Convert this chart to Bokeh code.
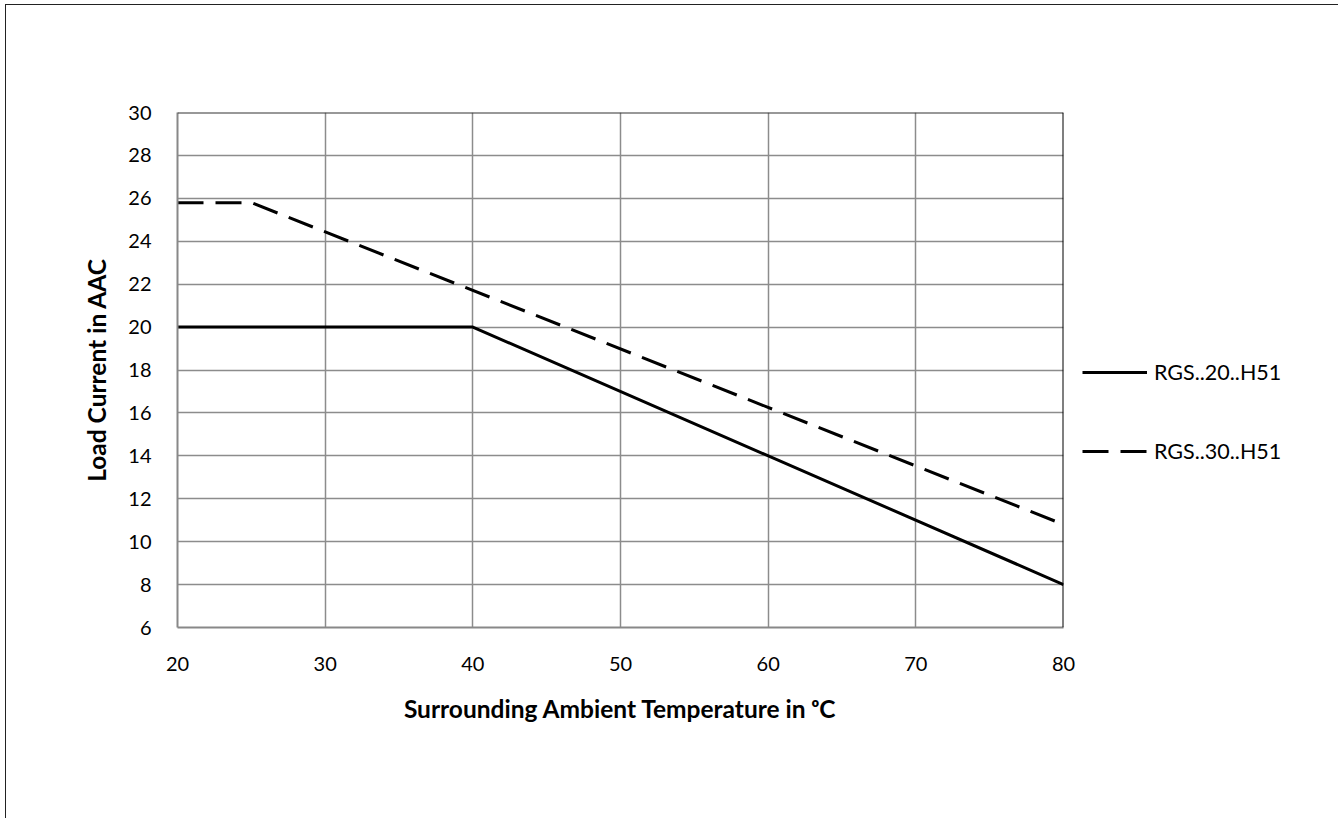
from bokeh.plotting import figure
from bokeh.models import Span, Legend, LegendItem, FixedTicker
from bokeh.embed import file_html
from bokeh.resources import INLINE

# Data
temp_20 = [20, 40, 80]
current_20 = [20, 20, 8]
temp_30 = [20, 25, 80]
current_30 = [25.8, 25.8, 10.8]
series_names = ["RGS..20..H51", "RGS..30..H51"]
x_ticks = [20, 30, 40, 50, 60, 70, 80]
y_ticks = [6, 8, 10, 12, 14, 16, 18, 20, 22, 24, 26, 28, 30]

FONT = "Lato"

p = figure(width=1329, height=817, frame_width=886, frame_height=515,
           output_backend="svg", toolbar_location=None,
           x_range=(20, 80), y_range=(6, 30),
           min_border_left=171, min_border_right=0,
           min_border_top=107, min_border_bottom=191)
p.styles = {"border-left": "1.5px solid #222", "border-top": "1.5px solid #222",
            "border-right": "1.5px solid #222", "margin-left": "5px", "margin-top": "4px"}

p.outline_line_color = None
p.background_fill_color = "white"
p.border_fill_color = "white"

for ax in (p.xaxis[0], p.yaxis[0]):
    ax.major_tick_line_color = None
    ax.minor_tick_line_color = None
    ax.axis_line_color = "#888888"
    ax.axis_line_width = 2
    ax.major_label_text_font = FONT
    ax.major_label_text_font_size = "20px"
    ax.major_label_text_color = "black"
    ax.axis_label_text_font = FONT
    ax.axis_label_text_font_style = "bold"
    ax.axis_label_text_font_size = "24.5px"
    ax.axis_label_text_color = "black"

p.xaxis.ticker = FixedTicker(ticks=x_ticks)
p.yaxis.ticker = FixedTicker(ticks=y_ticks)
p.xaxis.major_label_standoff = 23
p.yaxis.major_label_standoff = 20
p.xaxis.axis_label = "Surrounding Ambient Temperature in ᵒC"
p.yaxis.axis_label = "Load Current in AAC"
p.xaxis.axis_label_standoff = 20
p.yaxis.axis_label_standoff = 14

p.xgrid.grid_line_color = "#8c8c8c"
p.ygrid.grid_line_color = "#8c8c8c"
p.xgrid.grid_line_width = 1.5
p.ygrid.grid_line_width = 1.5

p.add_layout(Span(location=30, dimension="width", line_color="#333333", line_width=2))
p.add_layout(Span(location=80, dimension="height", line_color="black", line_width=2))

r1 = p.line(temp_20, current_20, line_color="black", line_width=3)
r2 = p.line(temp_30, current_30, line_color="black", line_width=3, line_dash="26 12")

legend = Legend(items=[LegendItem(label=series_names[0], renderers=[r1]),
                       LegendItem(label=series_names[1], renderers=[r2])],
                location=(19, 163), orientation="vertical",
                background_fill_alpha=0, border_line_color=None,
                label_text_font=FONT, label_text_font_size="21.5px",
                label_text_color="black",
                glyph_width=65, glyph_height=20, label_standoff=7, spacing=53,
                padding=0, margin=0)
p.add_layout(legend, "right")

open("out.html", "w").write(file_html(p, INLINE))
